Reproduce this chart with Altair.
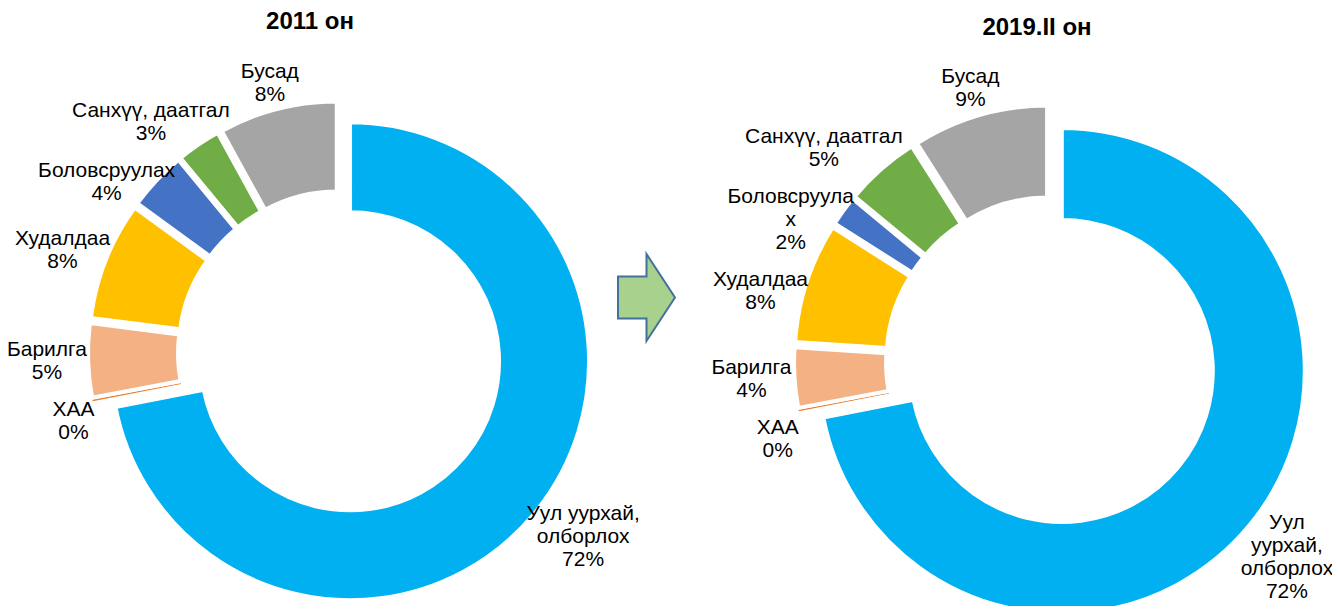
import math
import altair as alt
import pandas as pd

# ---- data ----
categories = ["Уул уурхай, олборлох", "ХАА", "Барилга", "Худалдаа",
              "Боловсруулах", "Санхүү, даатгал", "Бусад"]
colors = ["#00B0F0", "#ED7D31", "#F4B183", "#FFC000", "#4472C4", "#70AD47", "#A5A5A5"]
values_2011 = [72, 0.1, 5, 8, 4, 3, 8]
values_2019 = [72, 0.1, 4, 8, 2, 5, 9]
names_2011 = ["Уул уурхай,\nолборлох", "ХАА", "Барилга", "Худалдаа",
              "Боловсруулах", "Санхүү, даатгал", "Бусад"]
names_2019 = ["Уул\nуурхай,\nолборлох", "ХАА", "Барилга", "Худалдаа",
              "Боловсруула\nх", "Санхүү, даатгал", "Бусад"]
titles = ["2011 он", "2019.II он"]

# ---- layout / style ----
W, H = 1324, 598
FONT = "Liberation Sans"
FS, LH, CW = 21, 23, 10.9
GAP = 14

panels = [
    dict(key="2011", title=titles[0], values=values_2011, names=names_2011,
         cx=332, cy=345, R=237, r=151, d=13, RL=255, tx=302, ty=14),
    dict(key="2019", title=titles[1], values=values_2019, names=names_2019,
         cx=1043, cy=354, R=241, r=153, d=14, RL=262, tx=1029, ty=20),
]


def label_layout(p):
    vals = p["values"]
    total = sum(vals)
    rows, cum = [], 0.0
    for v, name in zip(vals, p["names"]):
        mid = (cum + v / 2) / total * 2 * math.pi
        cum += v
        text = f"{name}\n{round(v)}%"
        lines = text.split("\n")
        w = max(len(s) for s in lines) * CW
        h = len(lines) * LH
        s, c = math.sin(mid), math.cos(mid)
        rows.append(dict(chart=p["key"], text=text, n=len(lines),
                         lx=p["cx"] + p["RL"] * s + s * w / 2,
                         ly=p["cy"] - p["RL"] * c - c * h / 2,
                         w=w, h=h, left=s < 0))
    # push overlapping labels apart (top to bottom on each side)
    for side in (True, False):
        grp = sorted([r for r in rows if r["left"] == side], key=lambda r: r["ly"])
        for k in range(1, len(grp)):
            a, b = grp[k - 1], grp[k]
            if abs(a["lx"] - b["lx"]) < (a["w"] + b["w"]) / 2:
                min_y = a["ly"] + a["h"] / 2 + GAP + b["h"] / 2
                if b["ly"] < min_y:
                    b["ly"] = min_y
    # Vega puts the first line at y: shift so the block is centred
    for r in rows:
        r["ly0"] = r["ly"] - (r["n"] - 1) * LH / 2
    return rows


layers = []
for p in panels:
    arc_df = pd.DataFrame({
        "chart": p["key"],
        "order": list(range(len(categories))),
        "category": categories,
        "value": p["values"],
    })
    arcs = (
        alt.Chart(arc_df)
        .transform_joinaggregate(total="sum(value)")
        .transform_window(cum="sum(value)", sort=[alt.SortField("order")], frame=[None, 0])
        .transform_calculate(t0="(datum.cum - datum.value) / datum.total",
                             t1="datum.cum / datum.total")
        .transform_calculate(mid="PI * (datum.t0 + datum.t1)")
        .transform_calculate(ax=f"{p['cx']} + {p['d']} * sin(datum.mid)",
                             ay=f"{p['cy']} - {p['d']} * cos(datum.mid)")
        .mark_arc(outerRadius=p["R"] + 2, innerRadius=p["r"] - 2, stroke="white")
        .encode(
            theta=alt.Theta("t0:Q", scale=alt.Scale(domain=[0, 1], range=[0, 2 * math.pi]), stack=None),
            theta2="t1:Q",
            x=alt.X("ax:Q", scale=None, axis=None),
            y=alt.Y("ay:Q", scale=None, axis=None),
            color=alt.Color("category:N", scale=alt.Scale(domain=categories, range=colors), legend=None),
            strokeWidth=alt.condition(alt.datum.category == "ХАА", alt.value(0), alt.value(4)),
        )
    )
    layers.append(arcs)

    lab_df = pd.DataFrame(label_layout(p))[["chart", "text", "lx", "ly0"]]
    labels = (
        alt.Chart(lab_df)
        .mark_text(font=FONT, fontSize=FS, lineHeight=LH, lineBreak="\n",
                   align="center", baseline="middle", color="#000000")
        .encode(x=alt.X("lx:Q", scale=None, axis=None),
                y=alt.Y("ly0:Q", scale=None, axis=None),
                text="text:N")
    )
    layers.append(labels)

    title = (
        alt.Chart(pd.DataFrame({"title": [p["title"]]}))
        .mark_text(font=FONT, fontSize=24, fontWeight="bold", align="center",
                   baseline="middle", color="#000000")
        .encode(text="title:N", x=alt.value(p["tx"]), y=alt.value(p["ty"]))
    )
    layers.append(title)

arrow_path = "M-0.655,-0.48 L0,-0.48 L0,-1 L0.655,0 L0,1 L0,0.48 L-0.655,0.48 Z"
arrow = (
    alt.Chart(pd.DataFrame({"a": [0]}))
    .mark_point(shape=arrow_path, size=87 * 87, filled=True, fill="#A9D18E",
                stroke="#41719C", strokeWidth=2, opacity=1)
    .encode(x=alt.value(638.5), y=alt.value(289.5))
)
layers.append(arrow)

chart = (
    alt.layer(*layers)
    .properties(width=W, height=H, padding=0,
                autosize=alt.AutoSizeParams(type="none"))
    .configure_view(stroke=None)
)

chart.save("out.html", embed_options={"renderer": "svg", "actions": False})
